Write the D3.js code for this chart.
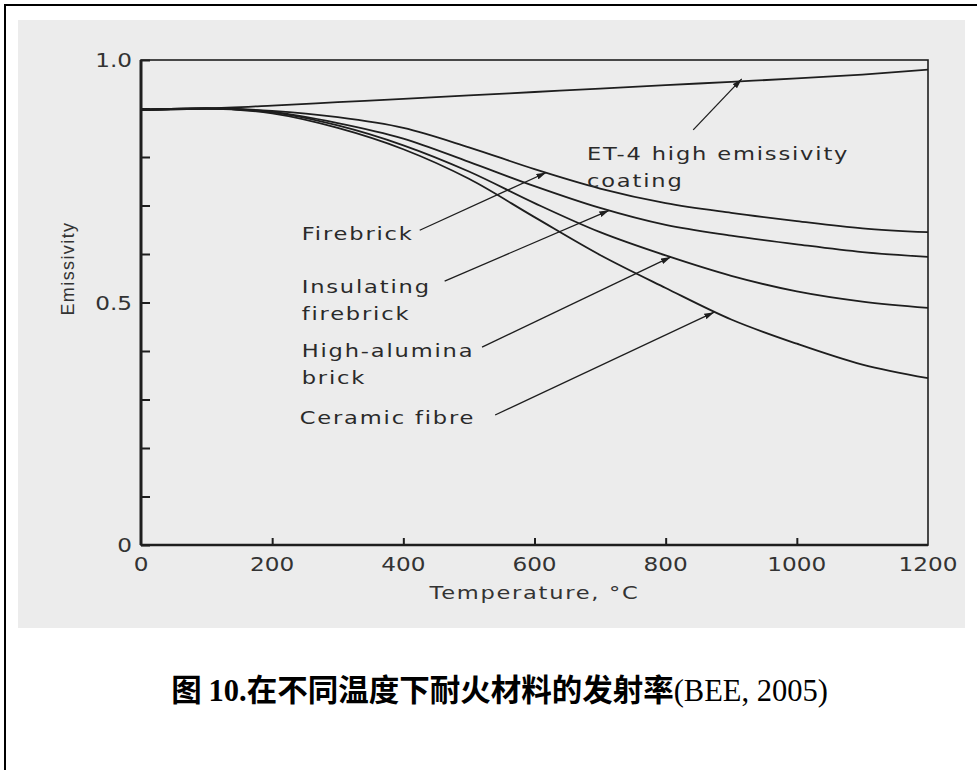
<!DOCTYPE html>
<html>
<head>
<meta charset="utf-8">
<script src="https://cdn.jsdelivr.net/npm/d3@7"></script>
<style>
  html, body { margin: 0; padding: 0; background: #fff; }
  svg { display: block; }
</style>
</head>
<body>
<div id="chart"></div>
<script>
const temps = [0, 100, 200, 300, 400, 500, 600, 700, 800, 900, 1000, 1100, 1200]

const et4 = [0.897, 0.900, 0.906, 0.913, 0.920, 0.927, 0.934, 0.941, 0.948, 0.955, 0.962, 0.970, 0.980]
const firebrick = [0.897, 0.900, 0.895, 0.882, 0.860, 0.820, 0.775, 0.735, 0.705, 0.685, 0.668, 0.653, 0.645]
const insulating = [0.897, 0.900, 0.893, 0.870, 0.838, 0.790, 0.740, 0.695, 0.660, 0.638, 0.620, 0.604, 0.594]
const alumina = [0.897, 0.900, 0.892, 0.865, 0.824, 0.770, 0.705, 0.645, 0.597, 0.555, 0.523, 0.502, 0.489]
const ceramic = [0.897, 0.900, 0.890, 0.860, 0.816, 0.755, 0.676, 0.598, 0.530, 0.465, 0.415, 0.372, 0.344]

const xTicks = [0, 200, 400, 600, 800, 1000, 1200]
const yTicks = [0, 0.1, 0.2, 0.3, 0.4, 0.5, 0.6, 0.7, 0.8, 0.9, 1.0]
const yLabels = {0: '0', 0.5: '0.5', 1: '1.0'}

// callout labels: text lines, text anchor (T, e), leader start (T, e), leader tip (T, e)
const labelLines = [
  ['ET-4 high emissivity', 'coating'],
  ['Firebrick'],
  ['Insulating', 'firebrick'],
  ['High-alumina', 'brick'],
  ['Ceramic fibre']
]
const labelAt = [[680, 0.794], [245, 0.629], [245, 0.520], [245, 0.388], [242, 0.249]]
const leaderFrom = [[842, 0.856], [425, 0.649], [463, 0.544], [520, 0.408], [540, 0.268]]
const leaderTo = [[916, 0.961], [618, 0.768], [714, 0.690], [808, 0.594], [874, 0.480]]

const xTitle = 'Temperature, °C'
const yTitle = 'Emissivity'

const W = 977
const H = 770
const margin = {top: 60, right: 49, bottom: 225, left: 141}
const width = W - margin.left - margin.right
const height = H - margin.top - margin.bottom
const ink = '#1e1e1e'
const stretch = 'scale(1.22,1)'

const svg = d3.select('#chart').append('svg')
  .attr('width', W)
  .attr('height', H)

// page frame and the grey scanned area
svg.append('rect')
  .attr('x', 5).attr('y', 5)
  .attr('width', 1000).attr('height', 800)
  .attr('fill', '#fff')
  .attr('stroke', '#000')
  .attr('stroke-width', 2)

svg.append('rect')
  .attr('x', 18).attr('y', 20)
  .attr('width', 947).attr('height', 608)
  .attr('fill', '#ececec')

const x = d3.scaleLinear().domain([0, 1200]).range([0, width])
const y = d3.scaleLinear().domain([0, 1]).range([height, 0])

const g = svg.append('g')
  .attr('transform', 'translate(' + margin.left + ',' + margin.top + ')')

// plot box
g.append('rect')
  .attr('width', width)
  .attr('height', height)
  .attr('fill', 'none')
  .attr('stroke', ink)
  .attr('stroke-width', 1.6)

g.append('line')
  .attr('x1', 0).attr('x2', 0)
  .attr('y1', 0).attr('y2', height)
  .attr('stroke', ink)
  .attr('stroke-width', 3)

g.append('line')
  .attr('x1', 0).attr('x2', width)
  .attr('y1', height).attr('y2', height)
  .attr('stroke', ink)
  .attr('stroke-width', 2.4)

// inward ticks
const yAxis = d3.axisRight(y)
  .tickValues(yTicks)
  .tickSize(9)
  .tickFormat('')
g.append('g').call(yAxis)
  .call(a => a.select('.domain').remove())
  .call(a => a.selectAll('line').attr('stroke', ink).attr('stroke-width', 2))

const xAxis = d3.axisTop(x)
  .tickValues(xTicks.slice(1, -1))
  .tickSize(7)
  .tickFormat('')
g.append('g')
  .attr('transform', 'translate(0,' + height + ')')
  .call(xAxis)
  .call(a => a.select('.domain').remove())
  .call(a => a.selectAll('line').attr('stroke', ink).attr('stroke-width', 2))

const tickFont = {family: 'DejaVu Sans', size: 19}

xTicks.forEach(t => {
  g.append('text')
    .attr('transform', 'translate(' + x(t) + ',' + (height + 26) + ') ' + stretch)
    .attr('text-anchor', 'middle')
    .attr('font-family', tickFont.family)
    .attr('font-size', tickFont.size)
    .attr('fill', '#333')
    .text(t)
})

yTicks.filter(v => yLabels[v] !== undefined).forEach(v => {
  g.append('text')
    .attr('transform', 'translate(-9,' + (y(v) + 7) + ') ' + stretch)
    .attr('text-anchor', 'end')
    .attr('font-family', tickFont.family)
    .attr('font-size', tickFont.size)
    .attr('fill', '#333')
    .text(yLabels[v])
})

g.append('text')
  .attr('transform', 'translate(' + x(600) + ',' + (height + 54) + ') ' + stretch)
  .attr('text-anchor', 'middle')
  .attr('font-family', 'DejaVu Sans')
  .attr('font-size', 18.5)
  .attr('letter-spacing', 1.4)
  .attr('fill', '#333')
  .text(xTitle)

g.append('text')
  .attr('transform', 'translate(-67,' + y(0.57) + ') rotate(-90)')
  .attr('text-anchor', 'middle')
  .attr('font-family', 'Liberation Sans')
  .attr('font-size', 18)
  .attr('letter-spacing', 1.4)
  .attr('fill', '#333')
  .text(yTitle)

// curves
const series = [et4, firebrick, insulating, alumina, ceramic]
const line = d3.line()
  .x((d, i) => x(temps[i]))
  .y(d => y(d))
  .curve(d3.curveMonotoneX)

series.forEach(s => {
  g.append('path')
    .datum(s)
    .attr('fill', 'none')
    .attr('stroke', ink)
    .attr('stroke-width', 1.8)
    .attr('d', line)
})

// leader lines with small arrowheads
svg.append('defs').append('marker')
  .attr('id', 'arrow')
  .attr('viewBox', '0 0 10 6')
  .attr('refX', 10)
  .attr('refY', 3)
  .attr('markerWidth', 10)
  .attr('markerHeight', 6)
  .attr('markerUnits', 'userSpaceOnUse')
  .attr('orient', 'auto')
  .append('path')
  .attr('d', 'M0,0 L10,3 L0,6 Z')
  .attr('fill', ink)

leaderFrom.forEach((p, i) => {
  const q = leaderTo[i]
  g.append('line')
    .attr('x1', x(p[0])).attr('y1', y(p[1]))
    .attr('x2', x(q[0])).attr('y2', y(q[1]))
    .attr('stroke', ink)
    .attr('stroke-width', 1.3)
    .attr('marker-end', 'url(#arrow)')
})

labelLines.forEach((lines, i) => {
  const a = labelAt[i]
  lines.forEach((txt, j) => {
    g.append('text')
      .attr('transform', 'translate(' + x(a[0]) + ',' + (y(a[1]) + j * 27) + ') ' + stretch)
      .attr('font-family', 'DejaVu Sans')
      .attr('font-size', 18.5)
      .attr('letter-spacing', 1.5)
      .attr('fill', '#2a2a2a')
      .text(txt)
  })
})

// caption
const caption = svg.append('text')
  .attr('x', W / 2 + 11)
  .attr('y', 701)
  .attr('text-anchor', 'middle')
  .attr('font-size', 30.5)
  .attr('fill', '#000')
caption.append('tspan')
  .attr('font-family', 'Noto Sans CJK SC')
  .attr('font-weight', 'bold')
  .text('图 ')
caption.append('tspan')
  .attr('font-family', 'Liberation Serif')
  .attr('font-weight', 'bold')
  .text('10.')
caption.append('tspan')
  .attr('font-family', 'Noto Sans CJK SC')
  .attr('font-weight', 'bold')
  .text('在不同温度下耐火材料的发射率')
caption.append('tspan')
  .attr('font-family', 'Liberation Serif')
  .text('(BEE, 2005)')
</script>
</body>
</html>
